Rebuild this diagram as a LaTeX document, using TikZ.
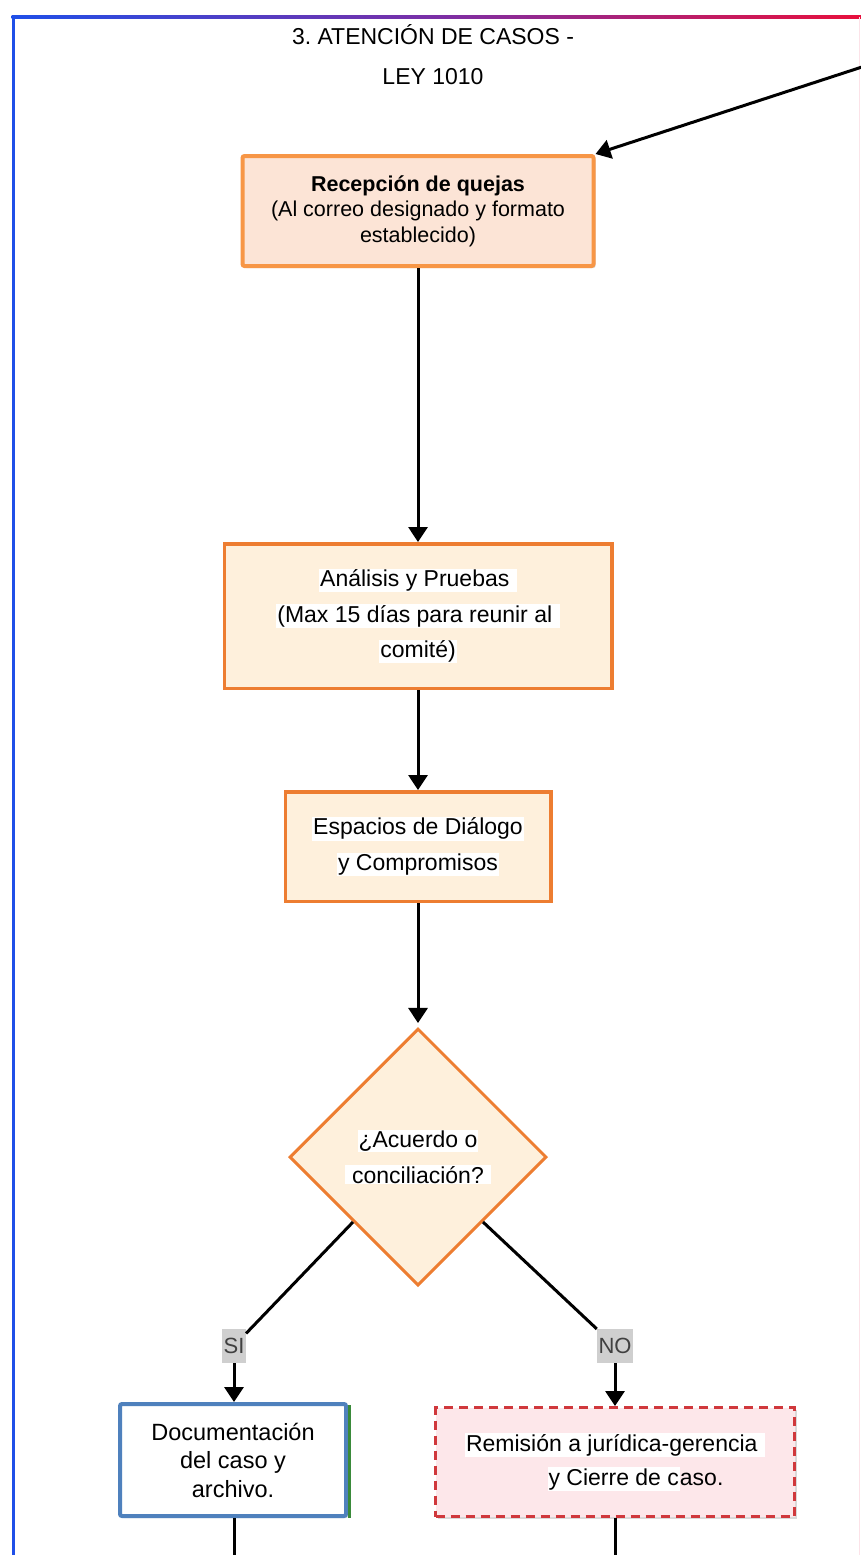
\documentclass[tikz,border=0pt]{standalone}
\usepackage{fontspec}
\setmainfont{Liberation Sans}
\usetikzlibrary{arrows.meta, shapes.geometric, shadows}
\frenchspacing

\definecolor{marcoazul}{HTML}{1F4FE8}
\definecolor{marcomorado}{HTML}{7B2FA6}
\definecolor{marcorojo}{HTML}{E8103C}
\definecolor{recepborde}{HTML}{F79646}
\definecolor{recepfondo}{HTML}{FCE4D6}
\definecolor{cajaborde}{HTML}{ED7D31}
\definecolor{cajafondo}{HTML}{FEF0DC}
\definecolor{docborde}{HTML}{4F81BD}
\definecolor{docverde}{HTML}{3A8A3A}
\definecolor{remborde}{HTML}{D0383C}
\definecolor{remfondo}{HTML}{FDE7EA}
\definecolor{etiqfondo}{HTML}{CFCFCF}
\definecolor{etiqtexto}{HTML}{404040}

\newcommand{\resalta}[1]{{\setlength{\fboxsep}{1pt}\colorbox{white}{#1}}}

\begin{document}
\begin{tikzpicture}[x=1pt, y=-1pt, >={Triangle[length=15pt,width=19pt]},
    conector/.style={line width=3pt, black},
    sombra/.style={drop shadow={shadow xshift=2pt, shadow yshift=-2pt, fill=black, opacity=.15}},
    pasocaja/.style={draw=cajaborde, fill=cajafondo, line width=3.5pt, inner sep=0pt,
        align=center, font=\fontsize{23}{35.5}\selectfont, sombra},
    etiqueta/.style={fill=etiqfondo, text=etiqtexto, inner xsep=1.5pt, inner ysep=0pt,
        minimum height=34pt, font=\fontsize{22}{22}\selectfont}]
    \useasboundingbox (0,0) rectangle (860,1555);

    % marco
    \shade[left color=marcoazul, right color=marcorojo, middle color=marcomorado] (11.5,15.5) rectangle (862,18.5);
    \fill[marcoazul] (11.5,15.5) rectangle (14.5,1556);
    \fill[marcorojo!12] (858.5,17) rectangle (860,1556);

    \node[align=center, font=\fontsize{23}{40}\selectfont] (titulo) at (433,55)
        {3. ATENCIÓN DE CASOS -\\LEY 1010};

    % pasos
    \node[draw=recepborde, fill=recepfondo, line width=4pt, rounded corners=2pt, inner sep=0pt,
        minimum width=351pt, minimum height=110pt, align=center,
        font=\fontsize{21.5}{25.5}\selectfont, sombra] (recepcion) at (418,211)
        {\textbf{Recepción de quejas}\\(Al correo designado y formato\\establecido)};
    \node[pasocaja, minimum width=387.5pt, minimum height=144.5pt] (analisis) at (418,616)
        {\resalta{Análisis y Pruebas\ }\\\resalta{(Max 15 días para reunir al\ }\\\resalta{comité)}};
    \node[pasocaja, minimum width=265.5pt, minimum height=109.5pt] (dialogo) at (418,846.5)
        {\resalta{Espacios de Diálogo}\\\resalta{y Compromisos}};
    \node[draw=cajaborde, fill=cajafondo, line width=3pt, diamond, inner sep=0pt,
        minimum width=257pt, minimum height=257pt, align=center,
        font=\fontsize{23}{36}\selectfont] (acuerdo) at (418,1157)
        {\resalta{¿Acuerdo o}\\\resalta{\ conciliación?\ }};

    \node[etiqueta] (si) at (234,1346) {SI};
    \node[etiqueta] (no) at (615,1346) {NO};

    \node[draw=docborde, fill=white, line width=4pt, rounded corners=2pt, inner sep=0pt,
        minimum width=226pt, minimum height=112pt, align=center,
        font=\fontsize{23.5}{28.5}\selectfont, sombra] (documentacion) at (233,1460)
        {Documentación\\del caso y\\archivo.};
    \draw[docverde, line width=2.5pt] ([xshift=1.5pt, yshift=-3pt]documentacion.north east)
        -- ([xshift=1.5pt]documentacion.south east);
    \node[draw=remborde, fill=remfondo, line width=3pt, dash pattern=on 9pt off 6pt, inner sep=0pt,
        minimum width=359pt, minimum height=109pt, align=center,
        font=\fontsize{23}{34}\selectfont, sombra] (remision) at (615,1462)
        {\resalta{Remisión a jurídica-gerencia\ }\\\hspace*{41pt}\resalta{y Cierre de c}aso.};

    \coordinate (entrada) at (862,67);
    \coordinate (docfin) at (234,1560);
    \coordinate (remfin) at (615,1560);

    % conectores
    \draw[conector, ->] (entrada) -- (recepcion.north east);
    \draw[conector, ->] (recepcion) -- (analisis);
    \draw[conector, ->] (analisis) -- (dialogo);
    \draw[conector, ->, shorten >=4pt] (dialogo) -- (acuerdo);
    \draw[conector] (acuerdo.south west) -- (si);
    \draw[conector] (acuerdo.south east) -- (no);
    \draw[conector, ->] (si) -- (si |- documentacion.north);
    \draw[conector, ->] (no) -- (no |- remision.north);
    \draw[conector] (documentacion.south -| docfin) -- (docfin);
    \draw[conector] (remision) -- (remfin);
\end{tikzpicture}
\end{document}
